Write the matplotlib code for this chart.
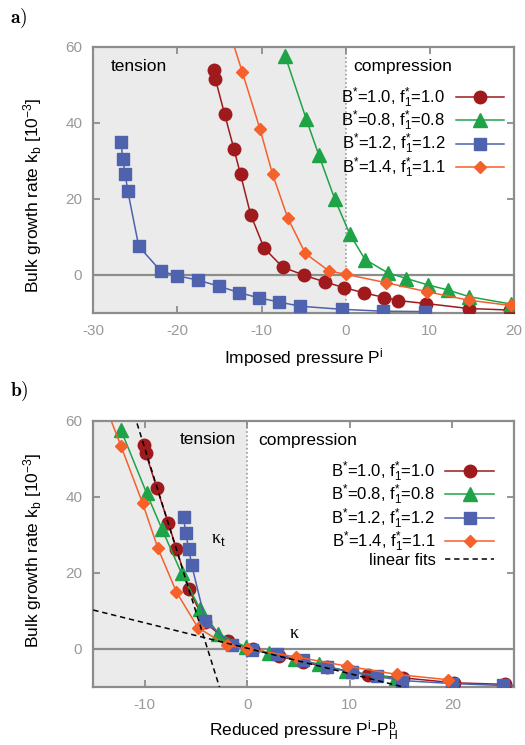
import numpy as np
import matplotlib
matplotlib.use("Agg")
import matplotlib.pyplot as plt

plt.rcParams['font.family'] = ['Liberation Sans', 'DejaVu Sans']
plt.rcParams['mathtext.fontset'] = 'custom'
plt.rcParams['mathtext.rm'] = 'Liberation Sans'
plt.rcParams['mathtext.it'] = 'Liberation Sans'
plt.rcParams['mathtext.bf'] = 'Liberation Sans:bold'
plt.rcParams['axes.unicode_minus'] = False

# =========================================================
# Data: bulk growth rate k_b [1e-3] vs imposed pressure P^i
# =========================================================
labels = [r'B$^{*}$=1.0, f$_1^{*}$=1.0',
          r'B$^{*}$=0.8, f$_1^{*}$=0.8',
          r'B$^{*}$=1.2, f$_1^{*}$=1.2',
          r'B$^{*}$=1.4, f$_1^{*}$=1.1']

p_red = [-15.7, -15.5, -14.4, -13.3, -12.5, -11.3, -9.7, -7.5, -5.0, -2.5,
         -0.2, 2.2, 4.6, 6.2, 9.6, 14.6, 19.5]
k_red = [53.8, 51.6, 42.3, 33.2, 26.4, 15.8, 7.0, 2.0, -0.1, -1.9,
         -3.4, -4.8, -6.0, -6.8, -7.6, -8.9, -9.3]

p_green = [-7.2, -4.7, -3.2, -1.3, 0.5, 2.3, 5.0, 7.2, 9.8, 12.1, 14.7, 19.6]
k_green = [57.6, 41.0, 31.5, 19.9, 10.6, 4.0, 0.5, -1.0, -2.7, -4.0, -5.8, -7.7]

p_blue = [-26.7, -26.5, -26.2, -25.9, -24.6, -22.0, -20.0, -17.6, -15.1,
          -12.7, -10.3, -7.9, -5.4, -0.5, 4.4, 9.4]
k_blue = [34.8, 30.5, 26.4, 22.0, 7.5, 1.0, -0.3, -1.4, -3.0,
          -4.7, -6.1, -7.2, -8.3, -9.1, -9.6, -9.7]

p_orange = [-14.4, -12.3, -10.2, -8.7, -6.9, -4.8, -2.0, 0.0, 4.8, 9.7, 14.6, 19.6]
k_orange = [68.0, 53.4, 38.4, 26.5, 15.0, 5.6, 1.0, 0.1, -2.1, -4.5, -6.7, -8.1]

# homogeneous bulk pressure P_H^b of each system
p_hb = [-5.6, 5.1, -20.5, 0.0]

# linear fits in reduced pressure (slope, intercept)
fit_tension = (-8.64, -33.4)
fit_compression = (-0.67, 0.2)

colors = ['#9e1a1d', '#1fa347', '#4f62ae', '#f4612b']
markers = ['o', '^', 's', 'D']
msizes = [9.0, 9.5, 9.3, 6.3]

series_p = [p_red, p_green, p_blue, p_orange]
series_k = [k_red, k_green, k_blue, k_orange]

GRAY = '#8c8c8c'


def style_axes(ax, xlim, xticks):
    ax.set_xlim(*xlim)
    ax.set_ylim(-10, 60)
    ax.set_xticks(xticks)
    ax.set_yticks([0, 20, 40, 60])
    ax.axvspan(xlim[0], 0, color='#ebebeb', lw=0, zorder=0)
    ax.axvline(0, color='#9a9a9a', ls=(0, (1, 1.5)), lw=1.2, zorder=1)
    ax.axhline(0, color=GRAY, lw=1.6, zorder=1)
    for s in ax.spines.values():
        s.set_color(GRAY)
        s.set_linewidth(1.6)
    ax.tick_params(direction='in', length=5, width=1.3, color=GRAY,
                   labelcolor='#999999', labelsize=11, top=True, right=True, pad=8)
    ax.set_ylabel(r'Bulk growth rate k$_\mathrm{b}$ [10$^{\mathrm{-3}}$]', fontsize=12.5)


def add_legend(ax, anchor):
    ax.legend(loc='upper right', bbox_to_anchor=anchor, frameon=False,
              markerfirst=False, fontsize=12, borderpad=0, borderaxespad=0,
              handlelength=2.9, handletextpad=0.6, labelspacing=-0.06)


fig = plt.figure(figsize=(5.25, 7.45), dpi=100)
ax1 = fig.add_axes([93.3 / 525, 1 - 312.7 / 745, 420.7 / 525, 266 / 745])
ax2 = fig.add_axes([93.3 / 525, 1 - 687 / 745, 420.7 / 525, 266 / 745])

# ---------------- a) imposed pressure ----------------
style_axes(ax1, (-30, 20), [-30, -20, -10, 0, 10, 20])
for p, k, c, m, ms, lab in zip(series_p, series_k, colors, markers, msizes, labels):
    ax1.plot(p, k, color=c, marker=m, ms=ms, mec=c, lw=1.1, label=lab, zorder=3)

ax1.set_xlabel(r'Imposed pressure P$^\mathrm{i}$', fontsize=12.5)
ax1.xaxis.set_label_coords(0.5, -0.125)
ax1.yaxis.set_label_coords(-0.117, 0.4425)
ax1.text(-27.9, 54.7, 'tension', fontsize=12.5, va='center', ha='left')
ax1.text(0.9, 54.7, 'compression', fontsize=12.5, va='center', ha='left')
add_legend(ax1, (0.976, 0.855))

# ---------------- b) reduced pressure ----------------
style_axes(ax2, (-15, 26), [-10, 0, 10, 20])
for p, k, c, m, ms, lab, ph in zip(series_p, series_k, colors, markers, msizes, labels, p_hb):
    x = np.array(p) - ph
    ax2.plot(x, k, color=c, marker=m, ms=ms, mec=c, lw=1.1, label=lab, zorder=3)

xf = np.linspace(-15, 26, 200)
ax2.plot(xf, fit_tension[0] * xf + fit_tension[1], 'k--', lw=1.1, zorder=4,
         label='linear fits', dashes=(3.5, 2.5))
ax2.plot(xf, fit_compression[0] * xf + fit_compression[1], 'k--', lw=1.1, zorder=4,
         dashes=(3.5, 2.5))

ax2.set_xlabel(r'Reduced pressure P$^\mathrm{i}$-P$_\mathrm{H}^\mathrm{b}$', fontsize=12.5)
ax2.xaxis.set_label_coords(0.5, -0.118)
ax2.yaxis.set_label_coords(-0.117, 0.515)
ax2.text(-1.1, 55, 'tension', fontsize=12.5, va='center', ha='right')
ax2.text(1.07, 55, 'compression', fontsize=12.5, va='center', ha='left')
ax2.text(-2.8, 28.8, r'κ$_\mathrm{t}$', fontsize=13, va='center', ha='center',
         family='Liberation Serif')
ax2.text(4.55, 4.1, 'κ', fontsize=13, va='center', ha='center',
         family='Liberation Serif')
add_legend(ax2, (0.952, 0.856))

fig.text(10 / 525, 1 - 18 / 745, r'$\mathbf{a)}$', fontsize=14, math_fontfamily='cm',
         va='center', ha='left')
fig.text(10 / 525, 1 - 391 / 745, r'$\mathbf{b)}$', fontsize=14, math_fontfamily='cm',
         va='center', ha='left')

fig.savefig('out.png', dpi=100)
